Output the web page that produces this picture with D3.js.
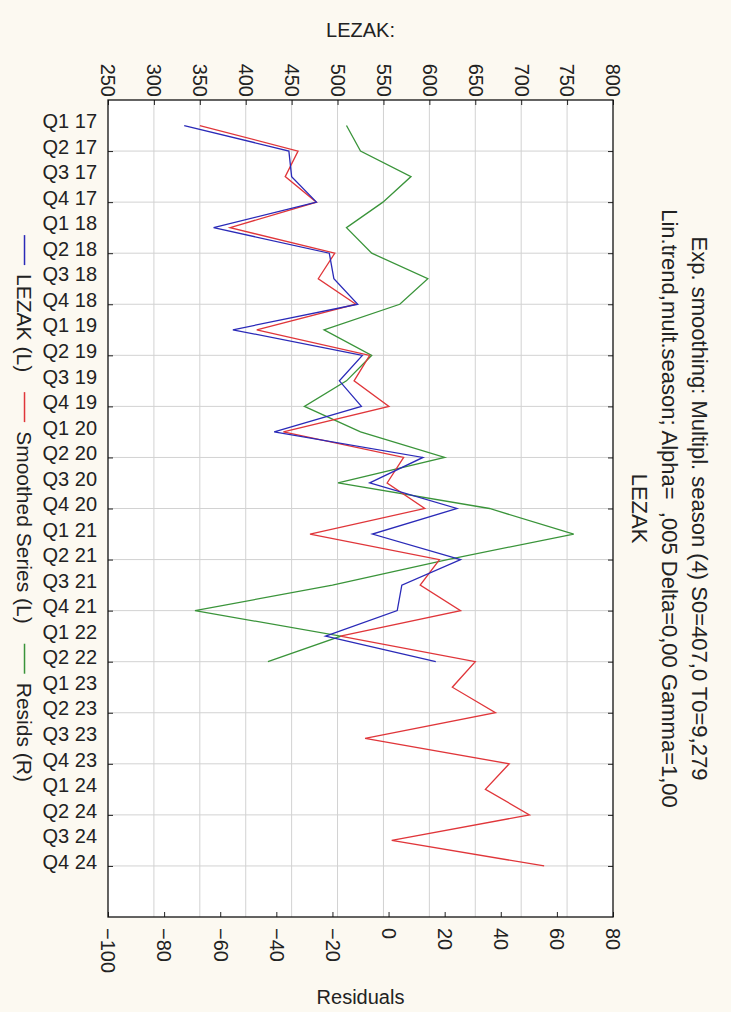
<!DOCTYPE html>
<html><head><meta charset="utf-8">
<script src="https://cdn.jsdelivr.net/npm/d3@7"></script>
<style>
html,body{margin:0;padding:0;background:#fcf9f1;}
svg{display:block;}
text{font-family:"Liberation Sans",Arial,sans-serif;fill:#222;}
</style></head>
<body>
<svg id="chart" width="731" height="1012"></svg>
<script>
// ---- data ----
const categories = ["Q1 17","Q2 17","Q3 17","Q4 17","Q1 18","Q2 18","Q3 18","Q4 18",
  "Q1 19","Q2 19","Q3 19","Q4 19","Q1 20","Q2 20","Q3 20","Q4 20",
  "Q1 21","Q2 21","Q3 21","Q4 21","Q1 22","Q2 22",
  "Q1 23","Q2 23","Q3 23","Q4 23","Q1 24","Q2 24","Q3 24","Q4 24"];
const lezak = [333,447,450,477,365,491,496,522,386,527,502,526,431,593,535,630,538,634,570,565,487,607];
const smoothed = [350,457,443,477,383,497,479,520,412,535,518,556,441,572,554,595,470,611,590,634,503,650,
  625,672,530,687,661,709,559,725];
const resids = [-15,-10,8,-2,-15,-6,14,4,-23,-6,-15,-30,-10,20,-18,36,66,21,-20,-69,-17,-43];
const leftTicks = [250,300,350,400,450,500,550,600,650,700,750,800];
const rightTicks = [-100,-80,-60,-40,-20,0,20,40,60,80];
const caseTicks = [2,4,6,8,10,12,14,16,18,20,22,24,26,28,30];
const titleLines = ["Exp. smoothing: Multipl. season (4) S0=407,0 T0=9,279",
  "Lin.trend,mult.season; Alpha=  ,005 Delta=0,00 Gamma=1,00",
  "LEZAK"];
const legendItems = [
  {name:"LEZAK (L)", color:"#2a2ab8"},
  {name:"Smoothed Series (L)", color:"#e0363a"},
  {name:"Resids (R)", color:"#3a943a"}];

// ---- layout ----
const svg = d3.select("#chart");
const L = 108, R = 613, T = 100, B = 917;
const fs = 20;
const xL = d3.scaleLinear().domain([250,800]).range([L,R]);
const xR = d3.scaleLinear().domain([-100,80]).range([L,R]);
const y = d3.scaleLinear().domain([0,32]).range([T,B]);

svg.append("rect").attr("x",L).attr("y",T).attr("width",R-L).attr("height",B-T).attr("fill","#fff");

// grid
const grid = svg.append("g").attr("stroke","#d2d2d2").attr("stroke-width",1);
leftTicks.slice(1,-1).forEach(v=>grid.append("line").attr("x1",xL(v)).attr("x2",xL(v)).attr("y1",T).attr("y2",B));
caseTicks.forEach(c=>grid.append("line").attr("x1",L).attr("x2",R).attr("y1",y(c)).attr("y2",y(c)));

// series
const lineL = d3.line().x(d=>xL(d.v)).y(d=>y(d.i+1));
const lineR = d3.line().x(d=>xR(d.v)).y(d=>y(d.i+1));
const toPts = arr => arr.map((v,i)=>({v,i}));
svg.append("path").datum(toPts(resids)).attr("d",lineR).attr("fill","none").attr("stroke",legendItems[2].color).attr("stroke-width",1.3);
svg.append("path").datum(toPts(smoothed)).attr("d",lineL).attr("fill","none").attr("stroke",legendItems[1].color).attr("stroke-width",1.3);
svg.append("path").datum(toPts(lezak)).attr("d",lineL).attr("fill","none").attr("stroke",legendItems[0].color).attr("stroke-width",1.3);

// axes
function style(g){ g.select(".domain").remove(); g.selectAll("line").attr("stroke","#222"); g.selectAll("text").style("font-family",null).attr("font-size",fs).attr("fill","#222"); }
const topAx = svg.append("g").attr("transform",`translate(0,${T})`)
  .call(d3.axisTop(xL).tickValues(leftTicks).tickSize(-5).tickFormat(d3.format("d")));
style(topAx);
topAx.selectAll("text").attr("transform","rotate(90)").attr("x",-3).attr("y",0.358*fs).attr("dy",null).attr("text-anchor","end");

const botAx = svg.append("g").attr("transform",`translate(0,${B})`)
  .call(d3.axisBottom(xR).tickValues(rightTicks).tickSize(-5).tickFormat(d3.format("d")));
style(botAx);
botAx.selectAll("text").attr("transform","rotate(90)").attr("x",11).attr("y",0.358*fs).attr("dy",null).attr("text-anchor","start");

const leftAx = svg.append("g").attr("transform",`translate(${L},0)`)
  .call(d3.axisLeft(y).tickValues(caseTicks).tickSize(-5).tickFormat(""));
style(leftAx);
const labAx = svg.append("g").attr("transform",`translate(${L},0)`)
  .call(d3.axisLeft(y).tickValues(d3.range(1,categories.length+1)).tickSize(0).tickFormat(d=>categories[d-1]));
style(labAx);
labAx.selectAll("line").remove();
labAx.selectAll("text").attr("x",-11).attr("y",-5).attr("dy","0.36em");

const rightAx = svg.append("g").attr("transform",`translate(${R},0)`)
  .call(d3.axisRight(y).tickValues(caseTicks).tickSize(-5).tickFormat(""));
style(rightAx);

svg.append("rect").attr("x",L).attr("y",T).attr("width",R-L).attr("height",B-T).attr("fill","none").attr("stroke","#111").attr("stroke-width",1.3);

// axis titles
svg.append("text").attr("x",(L+R)/2).attr("y",37).attr("text-anchor","middle").attr("font-size",fs).text("LEZAK:");
svg.append("text").attr("x",(L+R)/2).attr("y",1004).attr("text-anchor","middle").attr("font-size",fs).text("Residuals");

// title (rotated)
const tfs = 22;
const tx = [692,662,632];
titleLines.forEach((t,i)=>{
  svg.append("text").attr("transform",`translate(${tx[i]},${(T+B)/2}) rotate(90)`)
    .attr("text-anchor","middle").attr("font-size",tfs).style("white-space","pre").attr("y",0).text(t);
});

// legend (rotated)
const lfs = 21, dash = 30;
const lg = svg.append("g");
let pos = 0;
const parts = [];
legendItems.forEach((it,i)=>{
  if(i>0) pos += 20;
  parts.push({type:"dash",at:pos,color:it.color}); pos += dash + 9;
  const t = lg.append("text").attr("font-size",lfs).text(it.name);
  const w = t.node().getComputedTextLength();
  parts.push({type:"text",at:pos,node:t}); pos += w;
});
const total = pos, start = (T+B)/2 - total/2, lbx = 17;
lg.attr("transform",`translate(${lbx},${start}) rotate(90)`);
parts.forEach(p=>{
  if(p.type==="dash") lg.append("line").attr("x1",p.at).attr("x2",p.at+dash).attr("y1",-0.358*lfs).attr("y2",-0.358*lfs).attr("stroke",p.color).attr("stroke-width",1.5);
  else p.node.attr("x",p.at).attr("y",0);
});
</script>
</body></html>
